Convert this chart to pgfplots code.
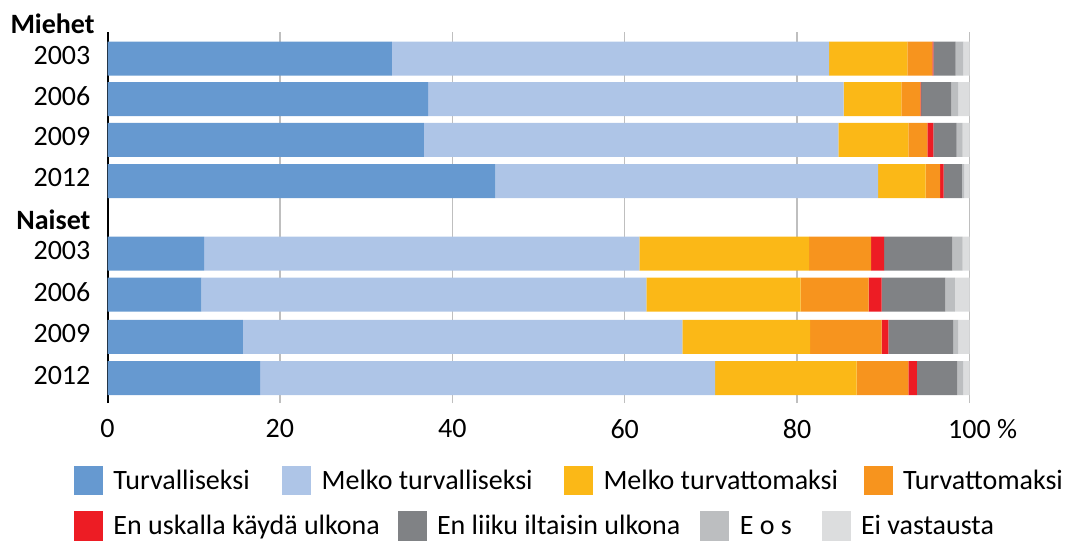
\documentclass[border=0pt]{standalone}
\usepackage{fontspec}
\setmainfont{Carlito}
\usepackage{pgfplots}
\usepackage{pgfplotstable}
\pgfplotsset{compat=1.18}

\definecolor{cTurv}{HTML}{6699D0}
\definecolor{cMelkoTurv}{HTML}{AEC5E7}
\definecolor{cMelkoTtom}{HTML}{FBB817}
\definecolor{cTtom}{HTML}{F7941E}
\definecolor{cUskalla}{HTML}{ED1C24}
\definecolor{cLiiku}{HTML}{808285}
\definecolor{cEos}{HTML}{BCBEC0}
\definecolor{cEi}{HTML}{DCDDDE}
\definecolor{gridc}{HTML}{BFBFBF}

% y = bar position (px from the bottom of the plot area), shares in %
\pgfplotstableread{
y     t    mt   mtt  tt  en  liiku eos ei
344.3 33.0 50.7 9.1  2.9 0.1 2.6   0.9 0.7
304.0 37.2 48.2 6.7  2.2 0.1 3.5   0.8 1.3
263.2 36.7 48.1 8.1  2.2 0.7 2.7   0.7 0.8
222.0 45.0 44.4 5.5  1.7 0.4 2.1   0.3 0.6
149.3 11.2 50.5 19.7 7.2 1.5 7.9   1.2 0.8
108.3 10.9 51.6 17.9 7.9 1.5 7.4   1.1 1.7
66.2  15.7 51.0 14.8 8.3 0.8 7.5   0.6 1.3
25.0  17.7 52.8 16.4 6.0 1.0 4.7   0.7 0.7
}\turva

\newcommand\lblfont{\fontsize{14}{16.8}\selectfont}

\begin{document}
\begin{tikzpicture}
  \path[use as bounding box] (-53.75pt,-70pt) rectangle (480.75pt,201.5pt);
  \begin{axis}[
      xbar stacked, bar width=34,
      scale only axis, width=431pt, height=185.5pt,
      xmin=0, xmax=100, ymin=0, ymax=371,
      xtick={0,20,40,60,80,100},
      xticklabels={0,20,40,60,80,100\rlap{ \%}},
      ytick={25,66.2,108.3,149.3,180,222,263.2,304,344.3},
      yticklabels={2012,2009,2006,2003,\textbf{Naiset},2012,2009,2006,2003},
      tick style={draw=none},
      xmajorgrids, grid style={line width=0.75pt, color=gridc},
      axis lines=left, axis line style={-},
      x axis line style={draw=none},
      y axis line style={black, line width=1pt},
      tick label style={font=\lblfont},
      xticklabel style={inner sep=0pt, anchor=north, yshift=-6pt},
      yticklabel style={inner sep=0pt, anchor=east, xshift=-6.25pt, yshift=1.5pt},
      clip=false,
    ]
    \addplot[fill=cTurv, draw=none] table[x=t, y=y] {\turva};
    \addplot[fill=cMelkoTurv, draw=none] table[x=mt, y=y] {\turva};
    \addplot[fill=cMelkoTtom, draw=none] table[x=mtt, y=y] {\turva};
    \addplot[fill=cTtom, draw=none] table[x=tt, y=y] {\turva};
    \addplot[fill=cUskalla, draw=none] table[x=en, y=y] {\turva};
    \addplot[fill=cLiiku, draw=none] table[x=liiku, y=y] {\turva};
    \addplot[fill=cEos, draw=none] table[x=eos, y=y] {\turva};
    \addplot[fill=cEi, draw=none] table[x=ei, y=y] {\turva};
    \node[anchor=east, inner sep=0pt, xshift=-6.25pt, font=\lblfont\bfseries]
      at (axis cs:0,379) {Miehet};
  \end{axis}

  % legend, first row
  \begin{axis}[
      hide axis, scale only axis, width=431pt, height=185.5pt,
      xmin=0, xmax=1, ymin=0, ymax=1,
      legend columns=4,
      legend style={at={(-0.03886,-0.2089)}, anchor=west, draw=none, fill=none,
        inner sep=0pt, outer sep=0pt, font=\lblfont, /tikz/column sep=0pt,
        cells={anchor=west}, nodes={inner sep=0pt, text height=9pt, text depth=0pt}},
      legend image code/.code={\fill[#1] (0pt,-7.25pt) rectangle (14.5pt,7.25pt); \path (19.75pt,0pt);},
    ]
    \addlegendimage{fill=cTurv, draw=none}
    \addlegendentry{\makebox[84.35pt][l]{Turvalliseksi}}
    \addlegendimage{fill=cMelkoTurv, draw=none}
    \addlegendentry{\makebox[121.15pt][l]{Melko turvalliseksi}}
    \addlegendimage{fill=cMelkoTtom, draw=none}
    \addlegendentry{\makebox[130pt][l]{Melko turvattomaksi}}
    \addlegendimage{fill=cTtom, draw=none}
    \addlegendentry{Turvattomaksi}
  \end{axis}

  % legend, second row
  \begin{axis}[
      hide axis, scale only axis, width=431pt, height=185.5pt,
      xmin=0, xmax=1, ymin=0, ymax=1,
      legend columns=4,
      legend style={at={(-0.03886,-0.3315)}, anchor=west, draw=none, fill=none,
        inner sep=0pt, outer sep=0pt, font=\lblfont, /tikz/column sep=0pt,
        cells={anchor=west}, nodes={inner sep=0pt, text height=9pt, text depth=0pt}},
      legend image code/.code={\fill[#1] (0pt,-7.25pt) rectangle (14.5pt,7.25pt); \path (19.75pt,0pt);},
    ]
    \addlegendimage{fill=cUskalla, draw=none}
    \addlegendentry{\makebox[142pt][l]{En uskalla käydä ulkona}}
    \addlegendimage{fill=cLiiku, draw=none}
    \addlegendentry{\makebox[131.65pt][l]{En liiku iltaisin ulkona}}
    \addlegendimage{fill=cEos, draw=none}
    \addlegendentry{\makebox[40.85pt][l]{E o s}}
    \addlegendimage{fill=cEi, draw=none}
    \addlegendentry{Ei vastausta}
  \end{axis}
\end{tikzpicture}
\end{document}
